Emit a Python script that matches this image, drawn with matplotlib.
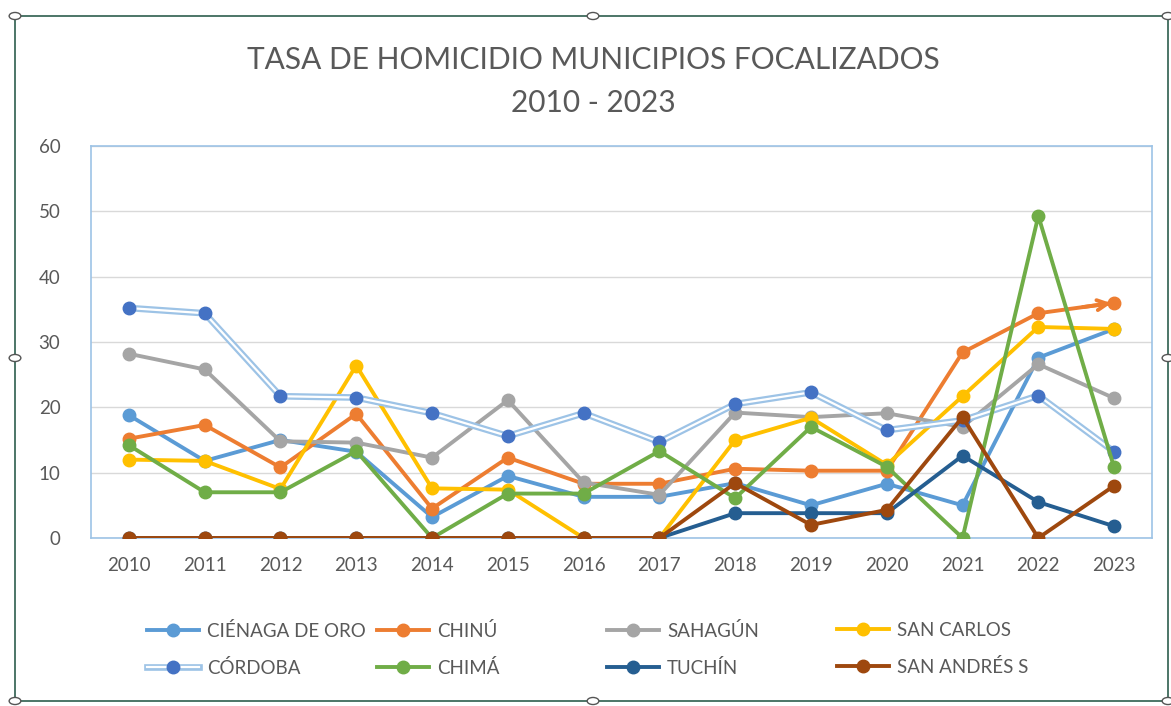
import matplotlib
matplotlib.use("Agg")
import matplotlib.pyplot as plt
from matplotlib.legend_handler import HandlerTuple
from matplotlib.patches import Rectangle, Circle

plt.rcParams['font.family'] = ['Lato', 'DejaVu Sans']

years = list(range(2010, 2024))

cienaga = [18.8, 11.8, 15.0, 13.2, 3.2, 9.5, 6.3, 6.3, 8.4, 5.0, 8.3, 5.0, 27.6, 32.0]
chinu = [15.2, 17.3, 10.8, 19.0, 4.5, 12.3, 8.3, 8.3, 10.6, 10.3, 10.3, 28.4, 34.4, 36.0]
sahagun = [28.2, 25.8, 14.8, 14.6, 12.3, 21.1, 8.5, 6.6, 19.2, 18.5, 19.1, 17.0, 26.6, 21.4]
san_carlos = [12.0, 11.8, 7.5, 26.4, 7.6, 7.4, 0.0, 0.0, 15.0, 18.4, 11.2, 21.7, 32.3, 32.0]
cordoba = [35.2, 34.4, 21.7, 21.5, 19.1, 15.6, 19.1, 14.7, 20.5, 22.3, 16.5, 18.0, 21.8, 13.2]
chima = [14.2, 7.0, 7.0, 13.3, 0.0, 6.8, 6.8, 13.3, 6.1, 17.0, 10.9, 0.0, 49.3, 10.8]
tuchin = [0.0, 0.0, 0.0, 0.0, 0.0, 0.0, 0.0, 0.0, 3.8, 3.8, 3.8, 12.6, 5.5, 1.8]
san_andres = [0.0, 0.0, 0.0, 0.0, 0.0, 0.0, 0.0, 0.0, 8.4, 2.0, 4.3, 18.5, 0.0, 8.0]

series = [
    ("CIÉNAGA DE ORO", cienaga, "#5B9BD5"),
    ("CHINÚ", chinu, "#ED7D31"),
    ("SAHAGÚN", sahagun, "#A5A5A5"),
    ("SAN CARLOS", san_carlos, "#FFC000"),
    ("CÓRDOBA", cordoba, "#4472C4"),
    ("CHIMÁ", chima, "#70AD47"),
    ("TUCHÍN", tuchin, "#255E91"),
    ("SAN ANDRÉS S", san_andres, "#9E480E"),
]

fig = plt.figure(figsize=(11.71, 7.06), dpi=100)
ax = fig.add_axes([91 / 1171, 1 - 538 / 706, (1152 - 91) / 1171, (538 - 146) / 706])

handles = {}
for name, vals, color in series:
    if name == "CÓRDOBA":
        # double line look: light blue outline with white core
        outer, = ax.plot(years, vals, color="#9DC3E6", lw=4.8, zorder=3)
        inner, = ax.plot(years, vals, color="white", lw=1.6, marker="o", ms=9,
                         mfc=color, mec=color, zorder=3)
        handles[name] = (outer, inner)
    else:
        ln, = ax.plot(years, vals, color=color, lw=2.8, marker="o", ms=9,
                      mfc=color, mec=color, zorder=3)
        handles[name] = ln

# arrow at the end of CHINÚ
ax.annotate("", xy=(years[-1], chinu[-1]),
            xytext=(years[-2] + 0.55, chinu[-2] + 0.55 * (chinu[-1] - chinu[-2])),
            arrowprops=dict(arrowstyle="->", color="#ED7D31", lw=2.8, mutation_scale=18), zorder=4)

ax.set_xlim(2009.5, 2023.5)
ax.set_ylim(0, 60)
ax.set_yticks(range(0, 61, 10))
ax.set_xticks(years)
ax.tick_params(axis="both", length=0, labelsize=13.5, labelcolor="#595959")
ax.tick_params(axis="x", pad=14)
ax.tick_params(axis="y", pad=22)
ax.grid(axis="y", color="#D9D9D9", lw=1)
ax.set_axisbelow(True)
for sp in ax.spines.values():
    sp.set_color("#9DC3E6")
    sp.set_linewidth(1.2)

fig.text(593 / 1171, 1 - 60 / 706, "TASA DE HOMICIDIO MUNICIPIOS FOCALIZADOS", ha="center", va="center",
         fontsize=21.5, color="#595959")
fig.text(593 / 1171, 1 - 103 / 706, "2010 - 2023", ha="center", va="center",
         fontsize=21.5, color="#595959")

# legend: 4 columns, 2 rows
cols = [("CIÉNAGA DE ORO", "CÓRDOBA"), ("CHINÚ", "CHIMÁ"), ("SAHAGÚN", "TUCHÍN"), ("SAN CARLOS", "SAN ANDRÉS S")]
col_x = [130, 360, 590, 820]
for (a, b), x in zip(cols, col_x):
    fig.legend([handles[a], handles[b]], [a, b], loc="upper left",
               bbox_to_anchor=(x / 1171, 1 - 605 / 706), frameon=False,
               fontsize=13.5, labelcolor="#595959", handlelength=2.8,
               handletextpad=0.4, labelspacing=1.0,
               handler_map={tuple: HandlerTuple(ndivide=1)})

# worksheet selection frame
fig.patches.append(Rectangle((15 / 1171, 1 - 701 / 706), (1168 - 15) / 1171, (701 - 16) / 706,
                             transform=fig.transFigure, fill=False, ec="#2E5E4E", lw=1.2))
for px, py in [(15, 16), (593, 16), (1168, 16), (15, 358), (1168, 358), (15, 701), (593, 701), (1168, 701)]:
    fig.patches.append(Circle((px / 1171, 1 - py / 706), 0.005, transform=fig.transFigure,
                              fc="white", ec="#555555", lw=1.0))

fig.savefig("out.png", dpi=100)
